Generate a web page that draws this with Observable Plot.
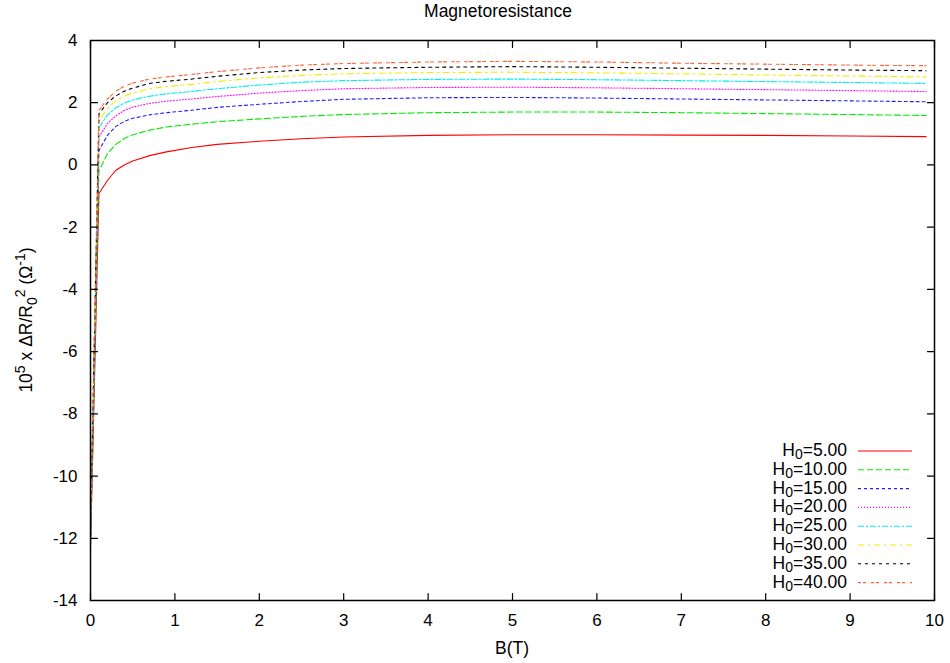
<!DOCTYPE html>
<html><head><meta charset="utf-8">
<script src="https://cdn.jsdelivr.net/npm/d3@7"></script>
<script src="https://cdn.jsdelivr.net/npm/@observablehq/plot@0.6"></script>
<style>body{margin:0;background:#fff;} svg{display:block}</style>
</head><body><div id="chart"></div>
<script>
// Magnetic field B (T)
const B = [0, 0.1, 0.2, 0.3, 0.4, 0.5, 0.7, 0.9, 1.2, 1.5, 2, 2.5, 3, 4, 5, 6, 7, 8, 9, 9.9];
// 10^5 x dR/R0^2 for each H0
const H0_5  = [-12.3, -0.92, -0.5, -0.17, 0.0, 0.13, 0.3, 0.42, 0.56, 0.66, 0.76, 0.84, 0.9, 0.95, 0.97, 0.97, 0.96, 0.95, 0.93, 0.91];
const H0_10 = [-12.2, -0.19, 0.36, 0.66, 0.85, 0.97, 1.12, 1.22, 1.31, 1.39, 1.48, 1.56, 1.62, 1.68, 1.70, 1.70, 1.68, 1.65, 1.62, 1.59];
const H0_15 = [-12.1, 0.46, 0.95, 1.24, 1.40, 1.50, 1.61, 1.68, 1.76, 1.85, 1.95, 2.04, 2.11, 2.16, 2.17, 2.15, 2.12, 2.09, 2.06, 2.03];
const H0_20 = [-12.0, 0.89, 1.33, 1.58, 1.75, 1.86, 1.98, 2.05, 2.12, 2.20, 2.31, 2.39, 2.45, 2.49, 2.50, 2.48, 2.45, 2.42, 2.39, 2.36];
const H0_25 = [-11.9, 1.21, 1.60, 1.84, 1.99, 2.09, 2.21, 2.29, 2.36, 2.45, 2.57, 2.66, 2.71, 2.75, 2.76, 2.74, 2.71, 2.68, 2.65, 2.62];
const H0_30 = [-11.8, 1.43, 1.81, 2.06, 2.21, 2.31, 2.45, 2.52, 2.59, 2.68, 2.80, 2.88, 2.93, 2.97, 2.98, 2.96, 2.93, 2.89, 2.86, 2.83];
const H0_35 = [-11.7, 1.64, 2.00, 2.22, 2.37, 2.47, 2.62, 2.69, 2.76, 2.85, 2.97, 3.05, 3.10, 3.14, 3.16, 3.14, 3.11, 3.08, 3.05, 3.03];
const H0_40 = [-11.6, 1.75, 2.12, 2.37, 2.53, 2.63, 2.76, 2.83, 2.91, 3.00, 3.12, 3.21, 3.26, 3.31, 3.33, 3.31, 3.27, 3.24, 3.21, 3.19];
const seriesLabels = ["5.00", "10.00", "15.00", "20.00", "25.00", "30.00", "35.00", "40.00"];
const seriesValues = [H0_5, H0_10, H0_15, H0_20, H0_25, H0_30, H0_35, H0_40];
const xTicks = [0, 1, 2, 3, 4, 5, 6, 7, 8, 9, 10];
const yTicks = [-14, -12, -10, -8, -6, -4, -2, 0, 2, 4];

// styles
const colors = ["#ff0000", "#00ee00", "#2020ff", "#ff00ff", "#00eeee", "#eeee00", "#000000", "#ff6030"];
const dashes = [null, "6,3", "3,3", "1,2", "6,2,2,2", "6,4,2,4", "3,4", "3,2,3,5"];

const rows = seriesValues.flatMap((vals, i) => B.map((b, j) => ({series: i, B: b, v: vals[j]})));

const font = "Liberation Sans, Arial, Helvetica, sans-serif";
const svg = Plot.plot({
  width: 950, height: 663,
  marginLeft: 90, marginRight: 16, marginTop: 40, marginBottom: 63,
  style: {fontFamily: font, fontSize: "17px", color: "black", background: "white"},
  x: {domain: [0, 10]},
  y: {domain: [-14, 4]},
  marks: [
    ...seriesValues.map((_, i) => Plot.line(rows.filter(r => r.series === i), {
      x: "B", y: "v", stroke: colors[i], strokeWidth: 1.1, strokeDasharray: dashes[i]
    })),
    Plot.frame({stroke: "black", strokeWidth: 1.5}),
    Plot.axisX({ticks: xTicks, tickSize: 0, tickPadding: 13, tickFormat: d => String(d), label: null}),
    Plot.axisY({ticks: yTicks, tickSize: 0, tickPadding: 13, tickFormat: d => String(d), label: null}),
    Plot.vector(xTicks, {x: d => d, y: () => -14, length: 7, rotate: 0, anchor: "start", shape: "spike", r: 0, stroke: "black", fill: "none", strokeWidth: 1.2}),
    Plot.vector(xTicks, {x: d => d, y: () => 4, length: 7, rotate: 180, anchor: "start", shape: "spike", r: 0, stroke: "black", fill: "none", strokeWidth: 1.2}),
    Plot.vector(yTicks, {x: () => 0, y: d => d, length: 7, rotate: 90, anchor: "start", shape: "spike", r: 0, stroke: "black", fill: "none", strokeWidth: 1.2}),
    Plot.vector(yTicks, {x: () => 10, y: d => d, length: 7, rotate: 270, anchor: "start", shape: "spike", r: 0, stroke: "black", fill: "none", strokeWidth: 1.2})
  ]
});
document.getElementById("chart").appendChild(svg);

const s = d3.select(svg);
// title
s.append("text").attr("x", 498).attr("y", 17).attr("text-anchor", "middle")
  .attr("font-family", font).attr("font-size", 17.5).attr("fill", "black").text("Magnetoresistance");
// x label
s.append("text").attr("x", 512).attr("y", 654).attr("text-anchor", "middle")
  .attr("font-family", font).attr("font-size", 17.5).attr("fill", "black").text("B(T)");
// y label
const yl = s.append("text").attr("transform", "translate(32,320) rotate(-90)").attr("text-anchor", "middle")
  .attr("font-family", font).attr("font-size", 17.5).attr("fill", "black");
yl.append("tspan").text("10");
yl.append("tspan").attr("dy", -7).attr("font-size", 14).text("5");
yl.append("tspan").attr("dy", 7).text(" x \u0394R/R");
yl.append("tspan").attr("dy", 5).attr("font-size", 14).text("0");
yl.append("tspan").attr("dy", -12).attr("font-size", 14).text("2");
yl.append("tspan").attr("dy", 7).text(" (\u03A9");
yl.append("tspan").attr("dy", -7).attr("font-size", 14).text("-1");
yl.append("tspan").attr("dy", 7).text(")");

// legend
const lg = s.append("g");
seriesLabels.forEach((lab, i) => {
  const cy = 451 + 18.8 * i;
  const t = lg.append("text").attr("x", 847).attr("y", cy + 5).attr("text-anchor", "end")
    .attr("font-family", font).attr("font-size", 17.5).attr("fill", "black");
  t.append("tspan").text("H");
  t.append("tspan").attr("dy", 3).attr("font-size", 14).text("0");
  t.append("tspan").attr("dy", -3).text("=" + lab);
  lg.append("line").attr("x1", 858).attr("x2", 912).attr("y1", cy).attr("y2", cy)
    .attr("stroke", colors[i]).attr("stroke-width", 1.1).attr("stroke-dasharray", dashes[i]);
});
</script></body></html>
